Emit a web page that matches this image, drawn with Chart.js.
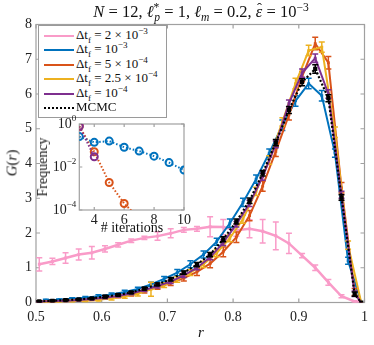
<!DOCTYPE html>
<html>
<head>
<meta charset="utf-8">
<script src="https://cdn.jsdelivr.net/npm/chart.js@4.4.1/dist/chart.umd.min.js"></script>
<style>
  html, body { margin: 0; padding: 0; background: #fff; }
  #wrap { position: relative; width: 374px; height: 345px; font-family: "Liberation Serif", "DejaVu Serif", serif; color: #111; }
  #main { position: absolute; left: 0; top: 0; }
  #inset { position: absolute; left: 20px; top: 100px; }
  .lbl { position: absolute; transform: translate(-50%, -50%); white-space: nowrap; }
  .rot { transform: translate(-50%, -50%) rotate(-90deg); }
  sup, sub { line-height: 0; font-size: 70%; }
  .hat { position: relative; display: inline-block; }
  .hat span { position: absolute; left: 55%; top: -1px; transform: translateX(-50%); font-style: normal; font-size: 90%; line-height: 1; }
  #legend { position: absolute; left: 38px; top: 24.5px; width: 129px; height: 93px; box-sizing: border-box;
            border: 1px solid #9a9a9a; background: #fff; font-size: 13px; }
  .row { position: absolute; left: 0; height: 14px; width: 100%; }
  .swatch { position: absolute; left: 5px; width: 30px; top: 6px; height: 0; border-top: 2.5px solid; }
  .txt { position: absolute; left: 37px; top: -1px; line-height: 14px; }
</style>
</head>
<body>
<div id="wrap">
  <canvas id="main" width="374" height="345"></canvas>
  <div class="lbl" style="left:201px; top:12px; font-size:16.5px;">
    <i>N</i> = 12, <i>ℓ</i><sup>*</sup><sub style="margin-left:-5px"><i>p</i></sub> = 1, <i>ℓ</i><sub><i>m</i></sub> = 0.2, <i class="hat">ε<span>ˆ</span></i> = 10<sup>−3</sup>
  </div>
  <div class="lbl rot" style="left:12px; top:163px; font-size:15px;"><i>G</i>(<i>r</i>)</div>
  <div class="lbl" style="left:201px; top:332px; font-size:15px;"><i>r</i></div>
  <div id="legend"></div>
  <canvas id="inset" width="175" height="140"></canvas>
  <div class="lbl rot" style="left:43px; top:167px; font-size:14px;">Frequency</div>
  <div class="lbl" style="left:132px; top:228px; font-size:14px;"># iterations</div>
</div>
<script>
// bin centres (two binnings show up in the figure)
const rA = [0.505, 0.525, 0.545, 0.565, 0.585, 0.605, 0.625, 0.645, 0.665, 0.685, 0.705, 0.725, 0.745,
            0.765, 0.785, 0.805, 0.825, 0.845, 0.865, 0.885, 0.905, 0.925, 0.945, 0.965, 0.985, 0.995];
const rB = [0.515, 0.535, 0.555, 0.575, 0.595, 0.615, 0.635, 0.655, 0.675, 0.695, 0.715, 0.735, 0.755,
            0.775, 0.795, 0.815, 0.835, 0.855, 0.875, 0.895, 0.915, 0.935, 0.955, 0.975, 0.995];

// G(r) per time step
const gPink = [1.10, 1.18, 1.28, 1.38, 1.43, 1.54, 1.66, 1.78, 1.86, 1.91, 1.99, 2.09, 2.12,
               2.18, 2.17, 2.08, 2.12, 2.05, 1.92, 1.70, 1.35, 1.00, 0.58, 0.18, 0.03, 0];
const ePink = [0.19, 0.09, 0.15, 0.16, 0.18, 0.09, 0.06, 0.05, 0.05, 0.12, 0.13, 0.07, 0.07,
               0.29, 0.22, 0.17, 0.26, 0.34, 0.40, 0.29, 0.06, 0.08, 0.08, 0.04, 0.02, 0];
const gBlue = [0.07, 0.08, 0.11, 0.14, 0.18, 0.23, 0.30, 0.39, 0.52, 0.68, 0.86, 1.10, 1.38,
               1.75, 2.28, 2.88, 3.55, 4.30, 5.10, 5.80, 6.30, 5.95, 4.30, 1.20, 0];
const eBlue = [0.02, 0.02, 0.03, 0.03, 0.04, 0.04, 0.05, 0.05, 0.06, 0.07, 0.09, 0.10, 0.10,
               0.10, 0.12, 0.12, 0.12, 0.12, 0.15, 0.15, 0.15, 0.15, 0.12, 0.10, 0];
const gOrange = [0.02, 0.03, 0.05, 0.07, 0.09, 0.13, 0.18, 0.24, 0.33, 0.44, 0.56, 0.70, 0.88,
                 1.12, 1.46, 1.88, 2.50, 3.35, 4.35, 5.40, 6.50, 7.45, 6.90, 3.30, 0.30, 0];
const eOrange = [0.02, 0.02, 0.02, 0.03, 0.03, 0.04, 0.04, 0.05, 0.06, 0.06, 0.07, 0.08, 0.10,
                 0.12, 0.14, 0.15, 0.15, 0.15, 0.15, 0.15, 0.15, 0.18, 0.18, 0.15, 0.10, 0];
const gYellow = [0.02, 0.02, 0.04, 0.05, 0.08, 0.12, 0.17, 0.25, 0.38, 0.50, 0.66, 0.86, 1.10,
                 1.42, 1.85, 2.40, 3.20, 4.10, 5.20, 6.30, 7.25, 7.35, 4.90, 1.65, 0];
const eYellow = [0.02, 0.02, 0.03, 0.03, 0.04, 0.05, 0.05, 0.06, 0.20, 0.07, 0.08, 0.08, 0.09,
                 0.10, 0.10, 0.12, 0.12, 0.12, 0.12, 0.15, 0.15, 0.15, 0.15, 0.12, 0];
const gPurple = [0.02, 0.04, 0.05, 0.07, 0.10, 0.14, 0.19, 0.26, 0.36, 0.47, 0.60, 0.78, 1.00,
                 1.30, 1.72, 2.25, 2.85, 3.62, 4.55, 5.73, 6.60, 7.03, 6.00, 3.10, 0.25, 0];
const ePurple = [0.02, 0.02, 0.02, 0.02, 0.03, 0.03, 0.03, 0.04, 0.04, 0.05, 0.05, 0.06, 0.06,
                 0.07, 0.08, 0.08, 0.09, 0.10, 0.10, 0.10, 0.12, 0.12, 0.12, 0.10, 0.08, 0];
const gMcmc = [0.03, 0.05, 0.07, 0.09, 0.12, 0.17, 0.22, 0.29, 0.40, 0.52, 0.67, 0.86, 1.09,
               1.38, 1.82, 2.33, 2.93, 3.72, 4.60, 5.54, 6.34, 6.72, 5.88, 3.02, 0.24, 0];
const eMcmc = [0.02, 0.02, 0.02, 0.02, 0.02, 0.03, 0.03, 0.03, 0.04, 0.04, 0.05, 0.05, 0.06,
               0.06, 0.07, 0.07, 0.08, 0.08, 0.09, 0.10, 0.10, 0.12, 0.10, 0.08, 0.06, 0];

const xTicks = [0.5, 0.6, 0.7, 0.8, 0.9, 1];
const yTicks = [0, 1, 2, 3, 4, 5, 6, 7, 8];

// inset: frequency vs number of iterations
const itBlue = [3, 4, 5, 6, 7, 8, 9, 10];
const fBlue = [0.26, 0.14, 0.16, 0.083, 0.055, 0.032, 0.016, 0.0072];
const itOrange = [3, 4, 5, 6, 7];
const fOrange = [0.78, 0.051, 0.0019, 0.0002, 0.00004];
const itPurple = [3, 4];
const fPurple = [0.78, 0.03];
const insetXTicks = [4, 6, 8, 10];
const insetYExp = [0, -2, -4];

const PINK = "#f99bc8", BLUE = "#0072bd", ORANGE = "#d95319", YELLOW = "#edb120", PURPLE = "#7e2f8e", BLACK = "#000";
const FONT = "'Liberation Serif', 'DejaVu Serif', serif";
const AXIS = "#a0a0a0";

const pts = (xs, ys) => xs.map((x, i) => ({ x: x, y: ys[i] }));

const series = [
  { label: "Δt<sub>f</sub> = 2 × 10<sup>−3</sup>", x: rA, g: gPink, e: ePink, color: PINK, width: 2.5 },
  { label: "Δt<sub>f</sub> = 10<sup>−3</sup>", x: rB, g: gBlue, e: eBlue, color: BLUE, width: 2 },
  { label: "Δt<sub>f</sub> = 5 × 10<sup>−4</sup>", x: rA, g: gOrange, e: eOrange, color: ORANGE, width: 2 },
  { label: "Δt<sub>f</sub> = 2.5 × 10<sup>−4</sup>", x: rB, g: gYellow, e: eYellow, color: YELLOW, width: 2 },
  { label: "Δt<sub>f</sub> = 10<sup>−4</sup>", x: rA, g: gPurple, e: ePurple, color: PURPLE, width: 2 },
  { label: "MCMC", x: rA, g: gMcmc, e: eMcmc, color: BLACK, width: 2.2, dash: [2, 2] },
];

// vertical error bars with caps, drawn right after each dataset
const errorBars = {
  id: "errorBars",
  afterDatasetDraw(chart, args) {
    const ds = chart.data.datasets[args.index];
    if (!ds.errors) return;
    const { ctx, chartArea } = chart;
    const y = chart.scales.y;
    ctx.save();
    ctx.beginPath();
    ctx.rect(chartArea.left, chartArea.top, chartArea.right - chartArea.left, chartArea.bottom - chartArea.top);
    ctx.clip();
    ctx.strokeStyle = ds.borderColor;
    ctx.lineWidth = 1.5;
    args.meta.data.forEach((pt, i) => {
      const e = ds.errors[i];
      if (!e) return;
      const v = ds.data[i].y;
      const y1 = y.getPixelForValue(v - e), y2 = y.getPixelForValue(v + e);
      ctx.beginPath();
      ctx.moveTo(pt.x, y1); ctx.lineTo(pt.x, y2);
      ctx.moveTo(pt.x - 3, y1); ctx.lineTo(pt.x + 3, y1);
      ctx.moveTo(pt.x - 3, y2); ctx.lineTo(pt.x + 3, y2);
      ctx.stroke();
    });
    ctx.restore();
  }
};

// box around the axes with inward tick marks
function drawBox(chart, xs, ys, len) {
  const { ctx, chartArea: a } = chart;
  const sx = chart.scales.x, sy = chart.scales.y;
  ctx.save();
  ctx.strokeStyle = AXIS;
  ctx.lineWidth = 1.2;
  ctx.strokeRect(a.left, a.top, a.right - a.left, a.bottom - a.top);
  ctx.beginPath();
  xs.forEach(v => {
    const px = sx.getPixelForValue(v);
    ctx.moveTo(px, a.bottom); ctx.lineTo(px, a.bottom - len);
    ctx.moveTo(px, a.top); ctx.lineTo(px, a.top + len);
  });
  ys.forEach(v => {
    const py = sy.getPixelForValue(v);
    ctx.moveTo(a.left, py); ctx.lineTo(a.left + len, py);
    ctx.moveTo(a.right, py); ctx.lineTo(a.right - len, py);
  });
  ctx.stroke();
  ctx.restore();
}

const mainBox = {
  id: "mainBox",
  beforeDatasetsDraw(chart) { drawBox(chart, xTicks, yTicks, 4); }
};

new Chart(document.getElementById("main"), {
  type: "line",
  data: {
    datasets: series.map((s, i) => ({
      data: pts(s.x, s.g),
      errors: s.e,
      order: series.length - i, // later series on top, like the legend order
      borderColor: s.color,
      backgroundColor: s.color,
      borderWidth: s.width,
      borderDash: s.dash || [],
      pointStyle: "rect",
      pointRadius: s.color === BLACK ? 3 : 2,
      pointBorderWidth: 0,
      pointBackgroundColor: s.color,
      tension: 0,
      fill: false,
    }))
  },
  options: {
    responsive: false,
    animation: false,
    layout: { padding: { left: 0, top: 24.5, right: 7.3, bottom: 0 } },
    plugins: { legend: { display: false }, tooltip: { enabled: false } },
    scales: {
      x: {
        type: "linear", min: 0.5, max: 1,
        afterFit: s => { s.height = 42.5; },
        afterBuildTicks: s => { s.ticks = xTicks.map(v => ({ value: v })); },
        grid: { display: false, drawTicks: false },
        border: { display: false },
        ticks: { padding: 6, autoSkip: false, maxRotation: 0, color: "#222",
                 font: { family: FONT, size: 14 }, callback: v => String(+v.toFixed(1)) }
      },
      y: {
        min: 0, max: 8,
        afterFit: s => { s.width = 36; },
        afterBuildTicks: s => { s.ticks = yTicks.map(v => ({ value: v })); },
        grid: { display: false, drawTicks: false },
        border: { display: false },
        ticks: { padding: 4, color: "#222", font: { family: FONT, size: 14 } }
      }
    }
  },
  plugins: [mainBox, errorBars]
});

// legend as html
const legend = document.getElementById("legend");
series.forEach((s, i) => {
  const row = document.createElement("div");
  row.className = "row";
  row.style.top = (3.5 + i * 14.4) + "px";
  const sw = document.createElement("div");
  sw.className = "swatch";
  sw.style.borderTopColor = s.color;
  if (s.dash) { sw.style.borderTopStyle = "dotted"; sw.style.borderTopWidth = "2px"; }
  const tx = document.createElement("div");
  tx.className = "txt";
  tx.innerHTML = s.label;
  row.appendChild(sw);
  row.appendChild(tx);
  legend.appendChild(row);
});

// inset
const insetFrame = {
  id: "insetFrame",
  beforeDatasetsDraw(chart) {
    const { ctx, chartArea: a } = chart;
    ctx.save();
    ctx.fillStyle = "#fff";
    ctx.fillRect(a.left, a.top, a.right - a.left, a.bottom - a.top);
    ctx.restore();
    drawBox(chart, insetXTicks, insetYExp.map(p => Math.pow(10, p)), 3);
  },
  afterDraw(chart) {
    const { ctx, chartArea: a } = chart;
    const sy = chart.scales.y;
    ctx.save();
    ctx.fillStyle = "#222";
    ctx.textBaseline = "middle";
    insetYExp.forEach(p => {
      const py = sy.getPixelForValue(Math.pow(10, p));
      const ex = p === 0 ? "0" : "−" + (-p);
      ctx.font = "9px " + FONT;
      const ew = ctx.measureText(ex).width;
      const xr = a.left - 3;
      ctx.textAlign = "right";
      ctx.fillText(ex, xr, py - 5);
      ctx.font = "14px " + FONT;
      ctx.fillText("10", xr - ew, py);
    });
    ctx.restore();
  }
};

const insetSet = (xs, ys, color, order) => ({
  data: pts(xs, ys),
  order: order,
  borderColor: color,
  borderWidth: 2,
  borderDash: [1.5, 2],
  pointStyle: "circle",
  pointRadius: 3.5,
  pointBorderWidth: 2,
  pointBorderColor: color,
  pointBackgroundColor: "rgba(0,0,0,0)",
  tension: 0,
  fill: false,
});

new Chart(document.getElementById("inset"), {
  type: "line",
  data: {
    datasets: [
      insetSet(itOrange, fOrange, ORANGE, 3),
      insetSet(itBlue, fBlue, BLUE, 2),
      insetSet(itPurple, fPurple, PURPLE, 1),
    ]
  },
  options: {
    responsive: false,
    animation: false,
    layout: { padding: { left: 0, top: 24, right: 11, bottom: 0 } },
    plugins: { legend: { display: false }, tooltip: { enabled: false } },
    scales: {
      x: {
        type: "linear", min: 3, max: 10,
        afterFit: s => { s.height = 30; },
        afterBuildTicks: s => { s.ticks = insetXTicks.map(v => ({ value: v })); },
        grid: { display: false, drawTicks: false },
        border: { display: false },
        ticks: { padding: 2, autoSkip: false, maxRotation: 0, color: "#222", font: { family: FONT, size: 14 } }
      },
      y: {
        type: "logarithmic", min: 1e-4, max: 1,
        afterFit: s => { s.width = 59.3; },
        grid: { display: false, drawTicks: false },
        border: { display: false },
        ticks: { display: false }
      }
    }
  },
  plugins: [insetFrame]
});
</script>
</body>
</html>
